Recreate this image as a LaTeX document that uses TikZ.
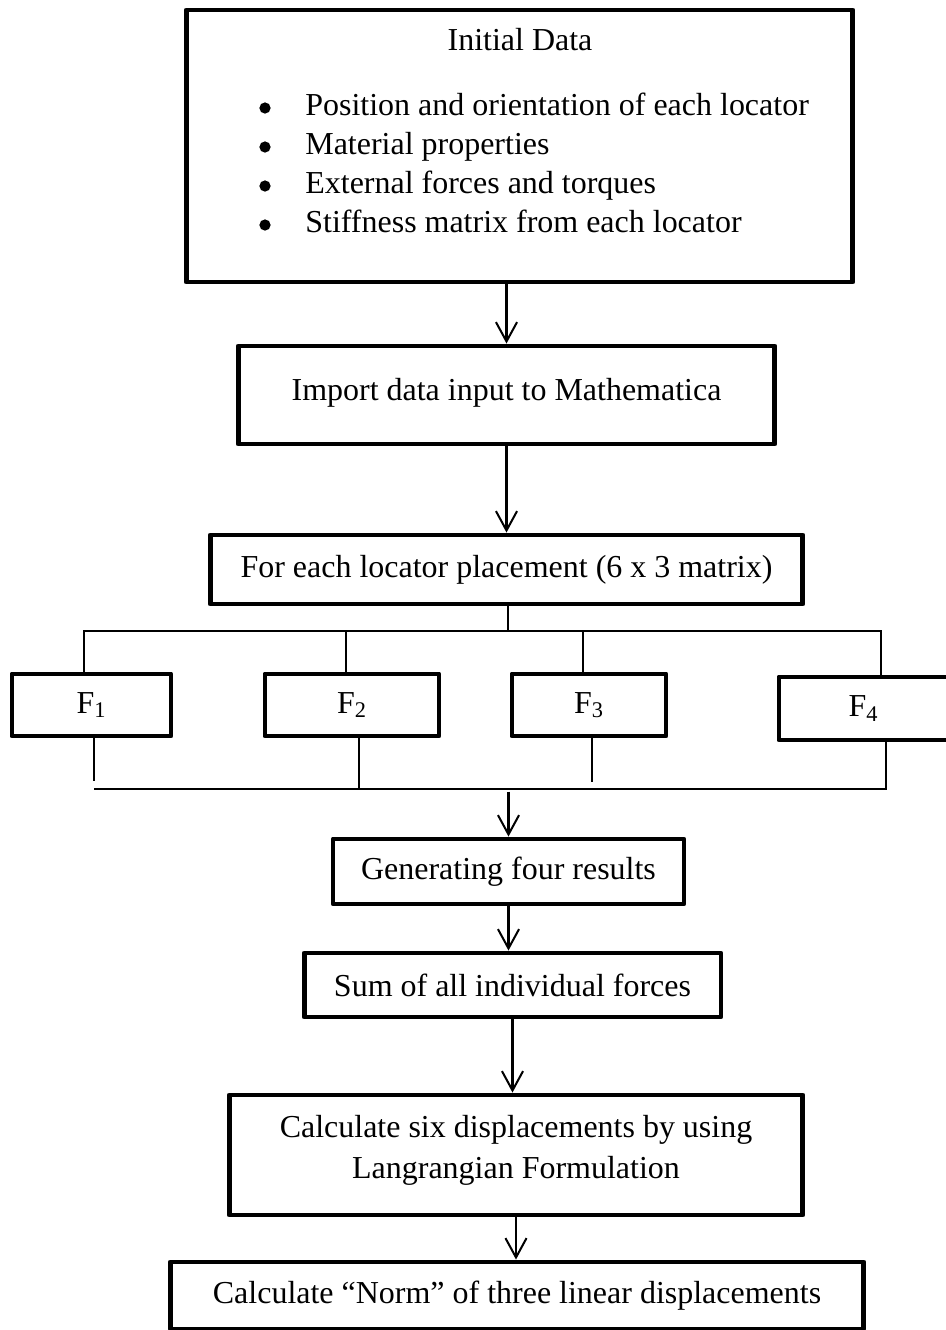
\documentclass[tikz,border=0pt]{standalone}
\usepackage{fontspec}
\setmainfont{Liberation Serif}
\usepackage{tikz}
\usetikzlibrary{arrows.meta}

\begin{document}
\begin{tikzpicture}[x=0.02cm, y=-0.02cm,
  box/.style={draw, line width=2.8pt, line join=round, inner sep=0pt, align=center,
    font=\fontsize{18.2}{23.4}\selectfont},
  txt/.style={inner sep=0pt, font=\fontsize{18.2}{23.4}\selectfont},
  dot/.style={circle, fill, inner sep=0pt, minimum size=6.4pt},
  wire/.style={line width=0.85pt},
  arr/.style={line width=1.15pt, -{Straight Barb[length=11pt, width=12pt, line width=1.15pt]}}]
  \useasboundingbox (0,0) rectangle (946,1330);

  \node[box, minimum width=13.34cm, minimum height=5.44cm] (init) at (519.5,146) {};
  \node[txt, anchor=base] (title) at (520,50) {Initial Data};
  \node[dot] (dot1) at (265,108) {};
  \node[dot] (dot2) at (265,147) {};
  \node[dot] (dot3) at (265,186) {};
  \node[dot] (dot4) at (265,225) {};
  \node[txt, anchor=base west] (item1) at (305,115) {Position and orientation of each locator};
  \node[txt, anchor=base west] (item2) at (305,154) {Material properties};
  \node[txt, anchor=base west] (item3) at (305,193) {External forces and torques};
  \node[txt, anchor=base west] (item4) at (305,232) {Stiffness matrix from each locator};

  \node[box, minimum width=10.74cm, minimum height=1.96cm, text depth=6pt] (imp) at (506.5,395) {Import data input to Mathematica};
  \node[box, minimum width=11.86cm, minimum height=1.38cm] (loc) at (506.5,569.5) {For each locator placement (6 x 3 matrix)};

  \node[box, minimum width=3.18cm, minimum height=1.24cm] (f1) at (91.5,705) {F\textsubscript{1}};
  \node[box, minimum width=3.48cm, minimum height=1.24cm] (f2) at (352,705) {F\textsubscript{2}};
  \node[box, minimum width=3.08cm, minimum height=1.24cm] (f3) at (589,705) {F\textsubscript{3}};
  \node[box, minimum width=3.38cm, minimum height=1.26cm] (f4) at (863.5,708.5) {F\textsubscript{4}};

  \node[box, minimum width=7.02cm, minimum height=1.30cm] (gen) at (508.5,871.5) {Generating four results};
  \node[box, minimum width=8.34cm, minimum height=1.28cm] (sum) at (512.5,985) {Sum of all individual forces};
  \node[box, minimum width=11.48cm, minimum height=2.40cm, text depth=9pt] (calc) at (516,1155)
    {Calculate six displacements by using\\Langrangian Formulation};
  \node[box, minimum width=13.88cm, minimum height=1.34cm] (norm) at (517,1295.5)
    {Calculate ``Norm'' of three linear displacements};

  \coordinate (splitT) at (508,631);
  \coordinate (joinB) at (509,789);
  \coordinate (dropA) at ([xshift=1.5pt]f1.south);

  \draw[arr] (init.south -| imp.north) -- (imp.north);
  \draw[arr] (imp.south) -- (loc.north);
  \draw[wire] (loc.south -| splitT) -- (splitT);
  \draw[wire] ([xshift=-4.2pt]f1.north) |- (splitT);
  \draw[wire] ([xshift=-3.4pt]f2.north) |- (splitT);
  \draw[wire] ([xshift=-3.4pt]f3.north) |- (splitT);
  \draw[wire] ([xshift=9.9pt]f4.north) |- (splitT);

  \draw[wire] (dropA) -- ++(0,43);
  \draw[wire] (joinB) -- (joinB -| dropA);
  \draw[wire] ([xshift=4pt]f2.south) |- (joinB);
  \draw[wire] ([xshift=1.7pt]f3.south) -- ++(0,44);
  \draw[wire] ([xshift=12.8pt]f4.south) |- (joinB);

  \draw[arr] ([yshift=-1.5pt]gen.north |- joinB) -- (gen.north);
  \draw[arr] (gen.south) -- (gen.south |- sum.north);
  \draw[arr] (sum.south) -- (sum.south |- calc.north);
  \draw[arr] (calc.south) -- (calc.south |- norm.north);
\end{tikzpicture}
\end{document}
